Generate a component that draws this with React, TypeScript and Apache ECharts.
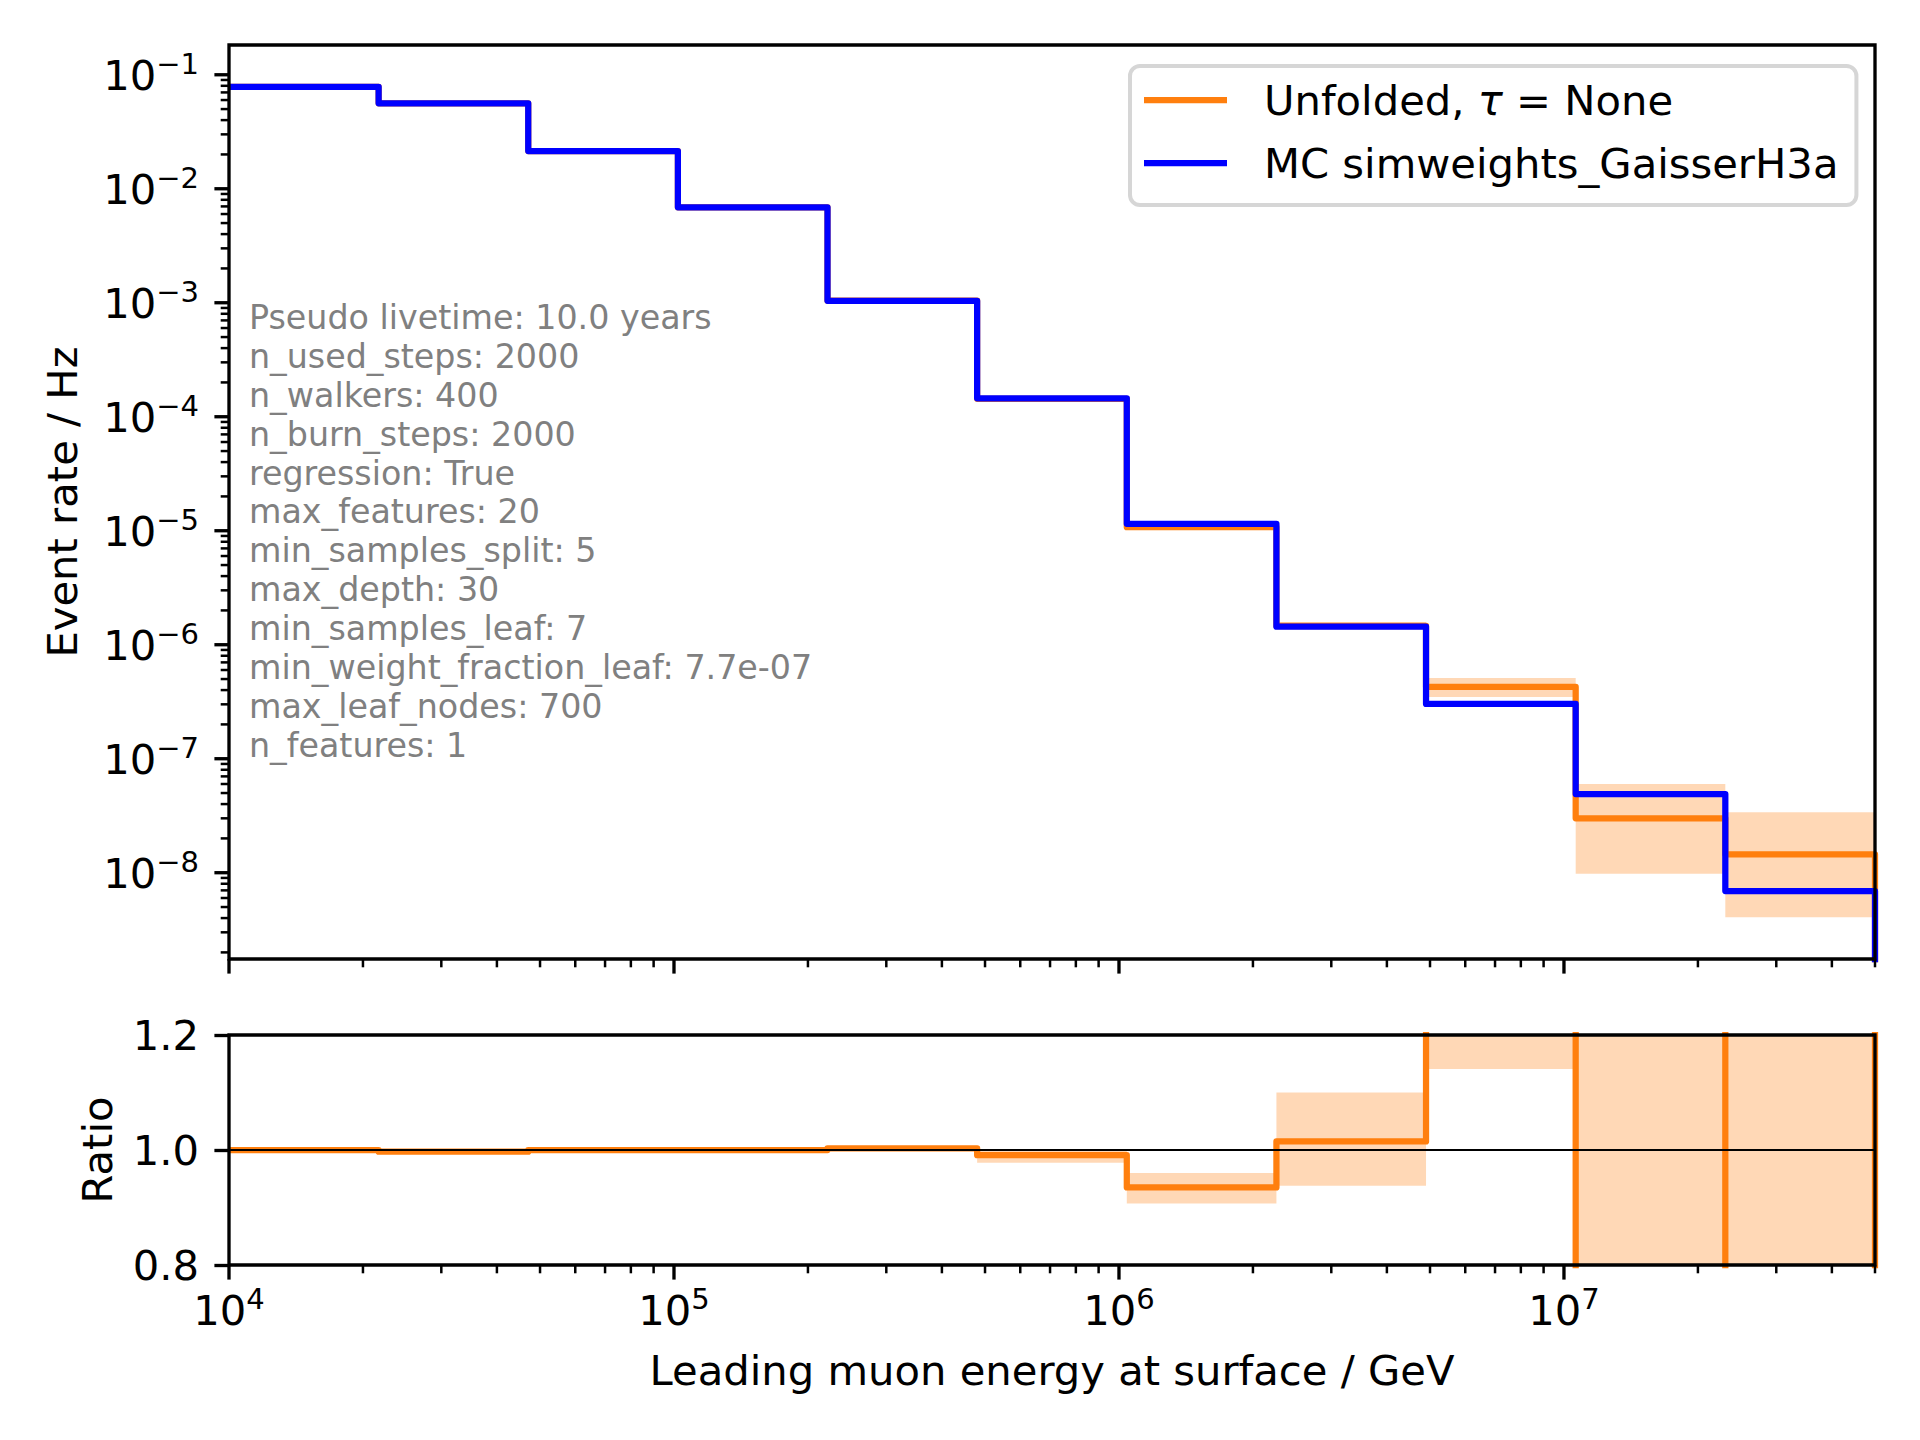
import React, { useEffect, useRef } from 'react';
import * as echarts from 'echarts';

// ---- data ----
const binEdges = [1.0e4, 2.169e4, 4.704e4, 1.0204e5, 2.213e5, 4.8e5, 1.0413e6, 2.2585e6, 4.898e6, 1.0625e7, 2.3046e7, 5.0e7];
const mcRate = [0.0783, 0.0562, 0.0214, 0.00687, 0.00104, 1.45e-4, 1.15e-5, 1.44e-6, 3.02e-7, 4.9e-8, 6.9e-9];
const unfoldedRate = [0.0783, 0.0561, 0.0214, 0.00687, 0.001043, 1.437e-4, 1.075e-5, 1.462e-6, 4.26e-7, 3.0e-8, 1.45e-8];
const unfoldedLo = [0.0782, 0.0559, 0.02136, 0.00686, 0.001041, 1.418e-4, 1.043e-5, 1.351e-6, 3.47e-7, 9.8e-9, 4.07e-9];
const unfoldedHi = [0.0785, 0.0563, 0.02144, 0.00688, 0.001045, 1.45e-4, 1.104e-5, 1.584e-6, 5.1e-7, 6.0e-8, 3.4e-8];
const ratio = [1.0, 0.997, 1.0, 1.0, 1.003, 0.991, 0.935, 1.015, 1.41, 0.61, 2.1];
const ratioLo = [0.998, 0.994, 0.998, 0.998, 1.001, 0.978, 0.907, 0.938, 1.141, 0.2, 0.59];
const ratioHi = [1.002, 1.0, 1.002, 1.002, 1.006, 1.0, 0.96, 1.1, 1.69, 1.22, 4.9];

const paramLines = [
  'Pseudo livetime: 10.0 years',
  'n_used_steps: 2000',
  'n_walkers: 400',
  'n_burn_steps: 2000',
  'regression: True',
  'max_features: 20',
  'min_samples_split: 5',
  'max_depth: 30',
  'min_samples_leaf: 7',
  'min_weight_fraction_leaf: 7.7e-07',
  'max_leaf_nodes: 700',
  'n_features: 1',
];

const UNFOLDED_NAME = 'Unfolded, τ = None';
const MC_NAME = 'MC simweights_GaisserH3a';

// axis limits
const X_MIN = 1e4;
const X_MAX = 5e7;
const Y_MIN = 1.75e-9;
const Y_MAX = 0.1824;
const R_MIN = 0.8;
const R_MAX = 1.2;
const LOG_ZERO = 1e-12; // histogram baseline (0 is not representable on a log axis)

// ---- layout / style ----
const FONT = 'DejaVu Sans';
const FS = 41.7;
const ORANGE = '#ff7f0e';
const BLUE = '#0000ff';
const G0 = { left: 229, top: 45, width: 1646, height: 914 };
const G1 = { left: 229, top: 1035, width: 1646, height: 230 };
const MAJ_LEN = 14.6;
const MIN_LEN = 8.3;
const MAJ_W = 3.33;
const MIN_W = 2.5;

const supRich = {
  b: { fontFamily: FONT, fontSize: FS, lineHeight: 44, verticalAlign: 'bottom', color: '#000' },
  s: { fontFamily: FONT, fontSize: 29, lineHeight: 29, padding: [0, 0, 18, 0], verticalAlign: 'bottom', color: '#000' },
};

function powLabel(v: number): string {
  const e = Math.log10(v);
  const r = Math.round(e);
  if (Math.abs(e - r) > 1e-6) return '';
  const exp = r < 0 ? '\u2212' + Math.abs(r) : String(r);
  return '{b|10}{s|' + exp + '}';
}

function stepPoints(values: number[], floor: number) {
  const pts = values.map((v, i) => [binEdges[i], v]);
  pts.push([binEdges[binEdges.length - 1], values[values.length - 1]]);
  pts.push([binEdges[binEdges.length - 1], floor]);
  return pts;
}

function logTicks(lo: number, hi: number) {
  const out: { v: number; major: boolean }[] = [];
  for (let d = Math.floor(Math.log10(lo)) - 1; d <= Math.ceil(Math.log10(hi)); d++) {
    for (let m = 1; m <= 9; m++) {
      const v = m * Math.pow(10, d);
      if (v >= lo * 0.9999 && v <= hi * 1.0001) out.push({ v, major: m === 1 });
    }
  }
  return out;
}

function bandSeries(lo: number[], hi: number[], xi: number, yi: number) {
  return {
    type: 'custom',
    xAxisIndex: xi,
    yAxisIndex: yi,
    silent: true,
    z: 1,
    data: lo.map((l, i) => [binEdges[i], binEdges[i + 1], l, hi[i]]),
    encode: { x: [0, 1], y: [2, 3] },
    renderItem: (params: any, api: any) => {
      const p0 = api.coord([api.value(0), api.value(3)]);
      const p1 = api.coord([api.value(1), api.value(2)]);
      const cs = params.coordSys;
      const shape = echarts.graphic.clipRectByRect(
        { x: p0[0], y: p0[1], width: p1[0] - p0[0], height: p1[1] - p0[1] },
        { x: cs.x, y: cs.y, width: cs.width, height: cs.height }
      );
      if (!shape) return null;
      return { type: 'rect', shape, style: { fill: 'rgba(255,127,14,0.3)' } };
    },
  };
}

function xTickSeries(xi: number, yi: number, yRef: number) {
  const ticks = logTicks(X_MIN, X_MAX);
  return {
    type: 'custom',
    xAxisIndex: xi,
    yAxisIndex: yi,
    silent: true,
    z: 6,
    data: ticks.map((t) => [t.v, yRef, t.major ? 1 : 0]),
    renderItem: (params: any, api: any) => {
      const x = api.coord([api.value(0), api.value(1)])[0];
      const cs = params.coordSys;
      const yb = cs.y + cs.height;
      const major = api.value(2) === 1;
      return {
        type: 'line',
        shape: { x1: x, y1: yb, x2: x, y2: yb + (major ? MAJ_LEN : MIN_LEN) },
        style: { stroke: '#000', lineWidth: major ? MAJ_W : MIN_W },
      };
    },
  };
}

function yTickSeries(xi: number, yi: number, xRef: number) {
  const ticks = logTicks(Y_MIN, Y_MAX);
  return {
    type: 'custom',
    xAxisIndex: xi,
    yAxisIndex: yi,
    silent: true,
    z: 6,
    data: ticks.map((t) => [xRef, t.v, t.major ? 1 : 0]),
    renderItem: (params: any, api: any) => {
      const y = api.coord([api.value(0), api.value(1)])[1];
      const cs = params.coordSys;
      const xl = cs.x;
      const major = api.value(2) === 1;
      return {
        type: 'line',
        shape: { x1: xl, y1: y, x2: xl - (major ? MAJ_LEN : MIN_LEN), y2: y },
        style: { stroke: '#000', lineWidth: major ? MAJ_W : MIN_W },
      };
    },
  };
}

export default function App() {
  const ref = useRef<HTMLDivElement>(null);

  useEffect(() => {
    if (!ref.current) return;
    const chart = echarts.init(ref.current, null, { renderer: 'svg' });

    const option: any = {
      animation: false,
      backgroundColor: '#ffffff',
      textStyle: { fontFamily: FONT },
      grid: [
        { ...G0, containLabel: false },
        { ...G1, containLabel: false },
      ],
      legend: {
        show: true,
        orient: 'vertical',
        left: 1130,
        top: 66,
        selectedMode: false,
        data: [
          { name: UNFOLDED_NAME, icon: 'rect' },
          { name: MC_NAME, icon: 'rect' },
        ],
        itemWidth: 83,
        itemHeight: 6.25,
        itemGap: 17,
        padding: [11, 18, 19, 14],
        backgroundColor: '#ffffff',
        borderColor: '#d6d6d6',
        borderWidth: 4,
        borderRadius: 10,
        formatter: (name: string) => {
          if (name === UNFOLDED_NAME) return '{n|Unfolded, }{i|τ}{n| = None}';
          return '{n|' + name + '}';
        },
        textStyle: {
          fontFamily: FONT,
          fontSize: FS,
          lineHeight: 46,
          color: '#000',
          padding: [0, 0, 0, 32],
          rich: {
            n: { fontFamily: FONT, fontSize: FS, lineHeight: 46, color: '#000' },
            i: { fontFamily: FONT, fontSize: FS, lineHeight: 46, fontStyle: 'italic', color: '#000' },
          },
        },
      },
      xAxis: [
        {
          type: 'log',
          logBase: 10,
          gridIndex: 0,
          min: X_MIN,
          max: X_MAX,
          axisLine: { show: false },
          axisTick: { show: false },
          axisLabel: { show: false },
          splitLine: { show: false },
        },
        {
          type: 'log',
          logBase: 10,
          gridIndex: 1,
          min: X_MIN,
          max: X_MAX,
          axisLine: { show: false },
          axisTick: { show: false },
          splitLine: { show: false },
          axisLabel: {
            show: true,
            margin: 22,
            formatter: (v: number) => powLabel(v),
            rich: supRich,
            hideOverlap: false,
          },
          name: 'Leading muon energy at surface / GeV',
          nameLocation: 'middle',
          nameGap: 84,
          nameTextStyle: { fontFamily: FONT, fontSize: FS, lineHeight: 42, color: '#000' },
        },
      ],
      yAxis: [
        {
          type: 'log',
          logBase: 10,
          gridIndex: 0,
          min: Y_MIN,
          max: Y_MAX,
          axisLine: { show: false },
          axisTick: { show: false },
          splitLine: { show: false },
          axisLabel: {
            show: true,
            margin: 30,
            formatter: (v: number) => powLabel(v),
            rich: supRich,
            hideOverlap: false,
          },
          name: 'Event rate / Hz',
          nameLocation: 'middle',
          nameGap: 146,
          nameTextStyle: { fontFamily: FONT, fontSize: FS, lineHeight: 42, color: '#000' },
        },
        {
          type: 'value',
          gridIndex: 1,
          min: R_MIN,
          max: R_MAX,
          interval: 0.2,
          axisLine: { show: false },
          axisTick: { show: true, length: MAJ_LEN, lineStyle: { color: '#000', width: MAJ_W } },
          splitLine: { show: false },
          axisLabel: {
            show: true,
            margin: 30,
            fontFamily: FONT,
            fontSize: FS,
            color: '#000',
            formatter: (v: number) => v.toFixed(1),
          },
          name: 'Ratio',
          nameLocation: 'middle',
          nameGap: 111,
          nameTextStyle: { fontFamily: FONT, fontSize: FS, lineHeight: 42, color: '#000' },
        },
      ],
      series: [
        bandSeries(unfoldedLo, unfoldedHi, 0, 0),
        {
          name: UNFOLDED_NAME,
          type: 'line',
          xAxisIndex: 0,
          yAxisIndex: 0,
          step: 'end',
          data: stepPoints(unfoldedRate, LOG_ZERO),
          symbol: 'none',
          showSymbol: false,
          silent: true,
          clip: true,
          z: 2,
          itemStyle: { color: ORANGE },
          lineStyle: { color: ORANGE, width: 6.25, join: 'round', cap: 'butt' },
        },
        {
          name: MC_NAME,
          type: 'line',
          xAxisIndex: 0,
          yAxisIndex: 0,
          step: 'end',
          data: stepPoints(mcRate, LOG_ZERO),
          symbol: 'none',
          showSymbol: false,
          silent: true,
          clip: true,
          z: 3,
          itemStyle: { color: BLUE },
          lineStyle: { color: BLUE, width: 6.25, join: 'round', cap: 'butt' },
        },
        xTickSeries(0, 0, 1e-4),
        yTickSeries(0, 0, 1e5),
        bandSeries(ratioLo, ratioHi, 1, 1),
        {
          name: 'ratio',
          type: 'line',
          xAxisIndex: 1,
          yAxisIndex: 1,
          step: 'end',
          data: stepPoints(ratio, 0),
          symbol: 'none',
          showSymbol: false,
          silent: true,
          clip: true,
          z: 2,
          itemStyle: { color: ORANGE },
          lineStyle: { color: ORANGE, width: 6.25, join: 'round', cap: 'butt' },
        },
        {
          name: 'reference',
          type: 'line',
          xAxisIndex: 1,
          yAxisIndex: 1,
          data: [
            [X_MIN, 1.0],
            [X_MAX, 1.0],
          ],
          symbol: 'none',
          showSymbol: false,
          silent: true,
          z: 4,
          itemStyle: { color: '#000' },
          lineStyle: { color: '#000', width: 2.1 },
        },
        xTickSeries(1, 1, 1.0),
      ],
      graphic: [
        {
          type: 'text',
          left: 249,
          top: 298,
          z: 50,
          silent: true,
          style: {
            text: paramLines.join('\n'),
            fontFamily: FONT,
            fontSize: 33.3,
            lineHeight: 38.9,
            fill: '#808080',
          },
        },
        {
          type: 'rect',
          z: 100,
          silent: true,
          shape: { x: G0.left, y: G0.top, width: G0.width, height: G0.height },
          style: { fill: null, stroke: '#000', lineWidth: MAJ_W },
        },
        {
          type: 'rect',
          z: 100,
          silent: true,
          shape: { x: G1.left, y: G1.top, width: G1.width, height: G1.height },
          style: { fill: null, stroke: '#000', lineWidth: MAJ_W },
        },
      ],
    };

    chart.setOption(option);
    return () => {
      chart.dispose();
    };
  }, []);

  return (
    <div
      ref={ref}
      style={{ position: 'absolute', left: 0, top: 0, width: 1920, height: 1440, background: '#fff' }}
    />
  );
}
